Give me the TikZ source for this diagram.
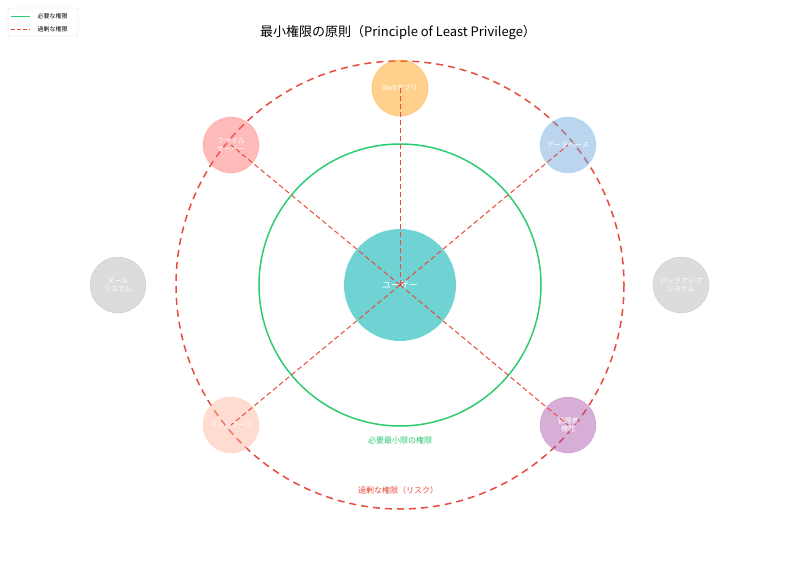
\documentclass[tikz,border=0pt]{standalone}
\usepackage{fontspec}
\setmainfont{Noto Sans CJK JP}
\begin{document}
\begin{tikzpicture}[x=1pt,y=-1pt,
  sat/.style={circle,minimum size=56pt,inner sep=0pt,draw,fill opacity=0.45,draw opacity=0.5,text=white,font=\fontsize{7}{8}\selectfont,align=center,text opacity=1},
  risk/.style={draw=red!70!orange!90!black,dashed,line width=0.9pt,dash pattern=on 4pt off 3pt},
  lbl/.style={font=\fontsize{8}{9}\selectfont}]
\definecolor{gr}{HTML}{2ECC71}\definecolor{rd}{HTML}{E74C3C}
\useasboundingbox (0,0) rectangle (800,570);
\fill[white] (0,0) rectangle (800,570);
\node[font=\fontsize{13}{14}\selectfont] (title) at (398,33) {最小権限の原則（Principle of Least Privilege）};
% legend
\node[draw=black!15,rounded corners=2pt,minimum width=70pt,minimum height=28pt] (leg) at (43,22) {};
\coordinate (l1a) at (11,16); \coordinate (l1b) at (30,16);
\coordinate (l2a) at (11,29); \coordinate (l2b) at (30,29);
\draw[gr,line width=1pt] (l1a) -- (l1b);
\draw[rd,line width=1pt,dash pattern=on 4pt off 2pt] (l2a) -- (l2b);
\node[anchor=west,font=\fontsize{6}{7}\selectfont] (t1) at (34,16) {必要な権限};
\node[anchor=west,font=\fontsize{6}{7}\selectfont] (t2) at (34,29) {過剰な権限};
% circles
\coordinate (c) at (400,285);
\draw[gr,line width=1.5pt] (c) circle (141);
\draw[rd,line width=1.5pt,dash pattern=on 7pt off 5pt] (c) circle (224);
\node[sat,fill=black!30,draw=black!30] (mail) at (118,285) {メール\\システム};
\node[sat,fill=black!30,draw=black!30] (bk) at (681,285) {バックアップ\\システム};
\node[sat,fill=orange!80!yellow,draw=orange] (web) at (400,88) {Webアプリ};
\node[sat,fill=red!60,draw=red!50] (file) at (231,145) {ファイル\\サーバー};
\node[sat,fill=cyan!60!blue!60,draw=cyan!50] (db) at (568,145) {データベース};
\node[sat,fill=orange!50!red!40,draw=orange!40] (net) at (231,425) {ネットワーク};
\node[sat,fill=violet!70,draw=violet!50] (adm) at (568,425) {管理者\\機能};
\node[circle,minimum size=112pt,fill=teal!60!cyan!70,fill opacity=0.8,text opacity=1,text=white,font=\fontsize{9}{10}\selectfont] (user) at (c) {ユーザー};
\foreach \n in {web,file,db,net,adm} \draw[rd,line width=1pt,dash pattern=on 5pt off 3pt] (user.center) -- (\n.center);
\node[lbl,text=gr] (g) at (400,440) {必要最小限の権限};
\node[lbl,text=rd] (r) at (398,490) {過剰な権限（リスク）};
\end{tikzpicture}
\end{document}
